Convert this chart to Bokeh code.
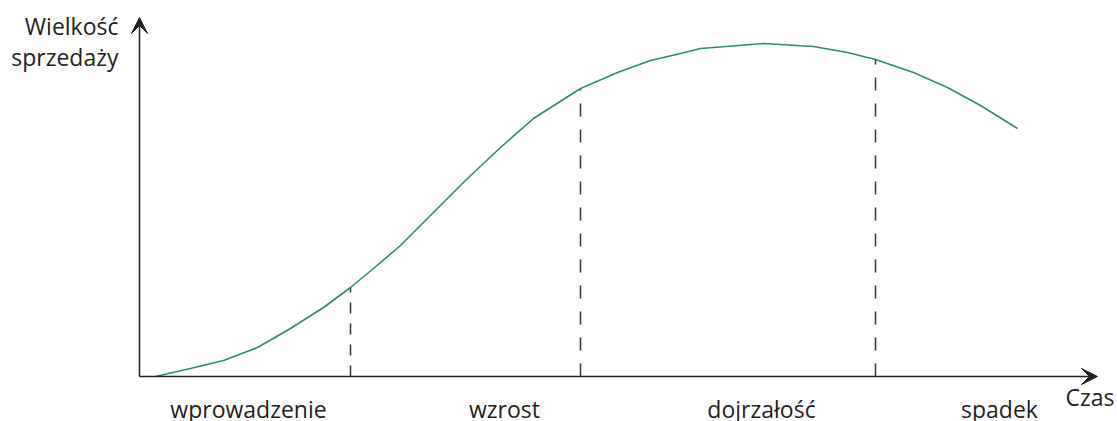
from bokeh.plotting import figure
from bokeh.models import Range1d, Arrow, VeeHead
from bokeh.core.properties import value
from bokeh.embed import file_html
from bokeh.resources import INLINE

# product life cycle curve (time units, sales units)
time = [16, 51, 84, 118, 151, 184, 211, 234, 261, 294, 328, 361, 394, 441, 478,
        511, 541, 561, 574, 624, 674, 708, 736, 774, 808, 841, 878]
sales = [0, 8, 16, 29, 48, 69, 89, 108, 131, 164, 198, 229, 258, 288, 304,
         316, 323, 328, 329, 333, 330, 324, 317, 304, 289, 271, 248]

# phase boundaries and curve height there
boundary_time = [211, 441, 736]
boundary_sales = [89, 288, 317]

phases = ["wprowadzenie", "wzrost", "dojrzałość", "spadek"]
phase_centers = [109, 365, 622, 860]

y_title = ["Wielkość", "sprzedaży"]
x_title = "Czas"

FONT = "Open Sans"
INK = "#231f20"
GREEN = "#2e8a68"
DASHES = ["11 10", "13 13", "13 13"]

p = figure(width=1117, height=421, x_range=Range1d(-139, 978), y_range=Range1d(-45, 376),
           output_backend="svg", toolbar_location=None, min_border=0,
           x_axis_type=None, y_axis_type=None)
p.grid.visible = False
p.outline_line_color = None
p.background_fill_color = "white"
p.border_fill_color = "white"

# dashed phase boundaries
for bt, bs, dash in zip(boundary_time, boundary_sales, DASHES):
    p.segment(x0=[bt], y0=[0], x1=[bt], y1=[bs],
              line_color="#333333", line_width=1.5, line_dash=dash)

# curve
p.line(time, sales, line_color=GREEN, line_width=1.6, line_join="round")

# axes with arrows
p.add_layout(Arrow(x_start=0, y_start=0, x_end=0, y_end=359, line_color=INK, line_width=1.5,
                   end=VeeHead(size=16, fill_color=INK, line_color=INK)))
p.add_layout(Arrow(x_start=0, y_start=0, x_end=958, y_end=0, line_color=INK, line_width=1.5,
                   end=VeeHead(size=16, fill_color=INK, line_color=INK)))

# axis titles
p.text(x=[-21, -21], y=[351, 320], text=y_title, text_align="right", text_baseline="alphabetic",
       text_font=value(FONT), text_font_size="23px", text_color=INK)
p.text(x=[926], y=[-20], text=[x_title], text_align="left", text_baseline="alphabetic",
       text_font=value(FONT), text_font_size="23px", text_color=INK)

# phase labels
p.text(x=phase_centers, y=[-32] * len(phases), text=phases, text_align="center",
       text_baseline="alphabetic", text_font=value(FONT), text_font_size="23px", text_color=INK)

open("out.html", "w").write(file_html(p, INLINE))
